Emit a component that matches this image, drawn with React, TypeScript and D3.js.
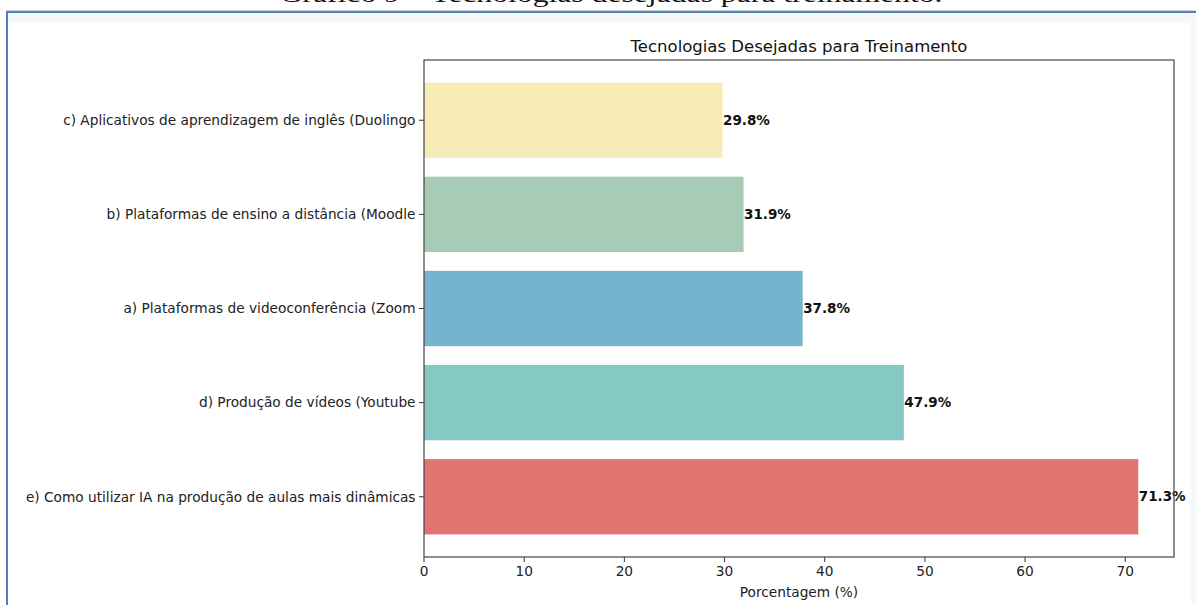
import React from "react";
import * as d3 from "d3";

const caption = "Gráfico 9 – Tecnologias desejadas para treinamento.";
const title = "Tecnologias Desejadas para Treinamento";
const xLabel = "Porcentagem (%)";
const categories = [
  "c) Aplicativos de aprendizagem de inglês (Duolingo",
  "b) Plataformas de ensino a distância (Moodle",
  "a) Plataformas de videoconferência (Zoom",
  "d) Produção de vídeos (Youtube",
  "e) Como utilizar IA na produção de aulas mais dinâmicas",
];
const values = [29.8, 31.9, 37.8, 47.9, 71.3];
const colors = ["#f7ecb7", "#a8cbb7", "#75b3cf", "#84c9c3", "#e2746f"];
const xTicks = [0, 10, 20, 30, 40, 50, 60, 70];

const W = 1196;
const H = 605;
const plot = { left: 424, right: 1174, top: 60, bottom: 557 };
const font = "'DejaVu Sans', sans-serif";

export default function App() {
  const xMax = (d3.max(values) as number) * 1.05;
  const x = d3.scaleLinear().domain([0, xMax]).range([plot.left, plot.right]);
  const y = d3
    .scaleBand<string>()
    .domain(categories)
    .range([plot.top, plot.bottom])
    .paddingInner(0.2)
    .paddingOuter(0.24);
  const bw = y.bandwidth();
  const cx = (plot.left + plot.right) / 2;

  return (
    <div style={{ position: "absolute", left: 0, top: 0, width: W, height: H }}>
      <svg width={W} height={H} style={{ display: "block" }}>
        <rect x={0} y={0} width={W} height={H} fill="#ffffff" />
        {/* caption (cut off at top, as in the source) */}
        <text
          x={611}
          y={2}
          textAnchor="middle"
          fontFamily="'Liberation Serif', 'Times New Roman', serif"
          fontSize={24}
          fill="#111"
          textLength={663}
          lengthAdjust="spacingAndGlyphs"
        >
          {caption}
        </text>
        {/* frame panel */}
        <rect x={8} y={13} width={W - 8} height={10} fill="#f6f8fa" />
        <rect x={1191} y={23} width={5} height={H - 23} fill="#f6f8fa" />
        <line x1={6} y1={10.5} x2={W} y2={10.5} stroke="#d0d4d8" strokeWidth={1} />
        <line x1={6} y1={12} x2={W} y2={12} stroke="#4f80bf" strokeWidth={2} />
        <line x1={7} y1={11} x2={7} y2={H} stroke="#4f80bf" strokeWidth={2} />

        {/* title */}
        <text x={cx} y={52} textAnchor="middle" fontFamily={font} fontSize={16.5} fill="#111">
          {title}
        </text>

        {/* bars */}
        {categories.map((c, i) => (
          <rect
            key={c}
            x={x(0)}
            y={y(c)}
            width={x(values[i]) - x(0)}
            height={bw}
            fill={colors[i]}
          />
        ))}

        {/* value labels */}
        {categories.map((c, i) => (
          <text
            key={"v" + c}
            x={x(values[i]) + 0.5}
            y={(y(c) as number) + bw / 2}
            dy="0.35em"
            fontFamily={font}
            fontSize={13.5}
            fontWeight="bold"
            fill="#111"
          >
            {values[i].toFixed(1) + "%"}
          </text>
        ))}

        {/* y ticks + labels */}
        {categories.map((c) => {
          const yy = (y(c) as number) + bw / 2;
          return (
            <g key={"t" + c}>
              <line x1={plot.left - 5} x2={plot.left} y1={yy} y2={yy} stroke="#333" strokeWidth={1} />
              <text
                x={plot.left - 8.5}
                y={yy}
                dy="0.35em"
                textAnchor="end"
                fontFamily={font}
                fontSize={13.7}
                fill="#222"
              >
                {c}
              </text>
            </g>
          );
        })}

        {/* x ticks + labels */}
        {xTicks.map((t) => (
          <g key={"x" + t}>
            <line x1={x(t)} x2={x(t)} y1={plot.bottom} y2={plot.bottom + 5} stroke="#333" strokeWidth={1} />
            <text
              x={x(t)}
              y={plot.bottom + 9}
              dy="0.71em"
              textAnchor="middle"
              fontFamily={font}
              fontSize={13.7}
              fill="#222"
            >
              {t}
            </text>
          </g>
        ))}

        {/* plot frame */}
        <rect
          x={plot.left}
          y={plot.top}
          width={plot.right - plot.left}
          height={plot.bottom - plot.top}
          fill="none"
          stroke="#444"
          strokeWidth={1.2}
        />

        {/* x label */}
        <text x={cx} y={597} textAnchor="middle" fontFamily={font} fontSize={13.7} fill="#222">
          {xLabel}
        </text>
      </svg>
    </div>
  );
}
